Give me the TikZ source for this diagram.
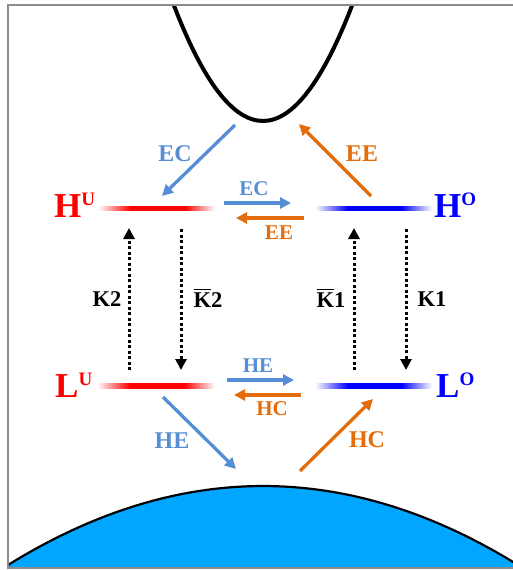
\documentclass[tikz,border=0pt]{standalone}
\usepackage{fontspec}
\setmainfont{Liberation Serif}
\usetikzlibrary{arrows.meta}
\definecolor{arrblue}{RGB}{85,142,213}
\definecolor{arrorange}{RGB}{228,108,10}
\definecolor{domeblue}{RGB}{0,166,255}
\definecolor{framegray}{RGB}{140,140,140}
\pgfdeclarehorizontalshading{redfade}{100bp}{color(0bp)=(white); color(25bp)=(white); color(39bp)=(red); color(62bp)=(red); color(75bp)=(white); color(100bp)=(white)}
\pgfdeclarehorizontalshading{bluefade}{100bp}{color(0bp)=(white); color(25bp)=(white); color(39bp)=(blue); color(62bp)=(blue); color(75bp)=(white); color(100bp)=(white)}
\newsavebox{\kbox}
\newcommand{\kbar}{\sbox{\kbox}{K}\rlap{\raisebox{\dimexpr\ht\kbox+2.5pt\relax}{\rule{\wd\kbox}{1.3pt}}}\usebox{\kbox}}
\newcommand{\supx}[1]{\raisebox{12pt}{\fontsize{19}{19}\selectfont #1}}
\tikzset{
  bigl/.style={inner sep=0pt, anchor=base west, font=\bfseries\fontsize{35}{35}\selectfont},
  diaglab/.style={inner sep=0pt, font=\bfseries\fontsize{24}{24}\selectfont},
  horlab/.style={inner sep=0pt, font=\bfseries\fontsize{21}{21}\selectfont},
  klab/.style={inner sep=0pt, font=\bfseries\fontsize{22.5}{22.5}\selectfont},
  barrow/.style={draw=arrblue, line width=3.3pt, -{Triangle[length=11pt,width=11pt]}},
  oarrow/.style={draw=arrorange, line width=3.3pt, -{Triangle[length=11pt,width=11pt]}},
  darrow/.style={draw=black, line width=3pt, dash pattern=on 3pt off 2.5pt, -{Triangle[length=11pt,width=11pt]}},
}
\begin{document}
\begin{tikzpicture}[x=1pt,y=-1pt]
\useasboundingbox (0,0) rectangle (513,570);
\begin{scope}
\clip (8,5) rectangle (513,568);
% dome
\fill[domeblue] (8,565) .. controls (178,459.7) and (348,459.7) .. (518,565) -- (518,580) -- (8,580) -- cycle;
\draw[black, line width=2.2pt] (8,565) .. controls (178,459.7) and (348,459.7) .. (518,565);
% parabola
\draw[black, line width=4pt] (173,3) .. controls (233,160.3) and (293,160.3) .. (353,3);
\end{scope}
% frame
\draw[framegray, line width=1.2pt] (514,5) -- (8,5) -- (8,568) -- (514,568);

% level lines
\shade[shading=redfade] (98,206) rectangle (215,210.5);
\shade[shading=bluefade] (315,206) rectangle (432,210.5);
\shade[shading=redfade] (97,383.5) rectangle (215,388);
\shade[shading=bluefade] (315,383.5) rectangle (432,388);

% level labels
\node[bigl, text=red] (HU) at (54,217) {H\supx{U}};
\node[bigl, text=blue] (HO) at (434,217) {H\supx{O}};
\node[bigl, text=red] (LU) at (55,397) {L\supx{U}};
\node[bigl, text=blue] (LO) at (436,397) {L\supx{O}};

% coordinates
\coordinate (ecd1) at (235,125); \coordinate (ecd2) at (162,196);
\coordinate (eed1) at (371,196); \coordinate (eed2) at (299,124);
\coordinate (ech1) at (224,203); \coordinate (ech2) at (291,203);
\coordinate (eeh1) at (304,218); \coordinate (eeh2) at (236,218);
\coordinate (k2a) at (129,370); \coordinate (k2b) at (129,228);
\coordinate (kb2a) at (181,229); \coordinate (kb2b) at (181,370);
\coordinate (kb1a) at (354,370); \coordinate (kb1b) at (354,228);
\coordinate (k1a) at (406,229); \coordinate (k1b) at (406,370);
\coordinate (heh1) at (227,380); \coordinate (heh2) at (294,380);
\coordinate (hch1) at (301,395); \coordinate (hch2) at (234,395);
\coordinate (hed1) at (163,397); \coordinate (hed2) at (236,469);
\coordinate (hcd1) at (300,471); \coordinate (hcd2) at (373,399);

% arrows
\draw[barrow] (ecd1) -- (ecd2);
\draw[oarrow] (eed1) -- (eed2);
\draw[barrow] (ech1) -- (ech2);
\draw[oarrow] (eeh1) -- (eeh2);
\draw[darrow] (k2a) -- (k2b);
\draw[darrow] (kb2a) -- (kb2b);
\draw[darrow] (kb1a) -- (kb1b);
\draw[darrow] (k1a) -- (k1b);
\draw[barrow] (heh1) -- (heh2);
\draw[oarrow] (hch1) -- (hch2);
\draw[barrow] (hed1) -- (hed2);
\draw[oarrow] (hcd1) -- (hcd2);

% arrow labels
\node[diaglab, text=arrblue] (lecd) at (175,154) {EC};
\node[diaglab, text=arrorange] (leed) at (362,154) {EE};
\node[horlab, text=arrblue] (lech) at (254,189) {EC};
\node[horlab, text=arrorange] (leeh) at (279,233) {EE};
\node[klab] (lk2) at (107,299) {K2};
\node[klab] (lkb2) at (208,298) {\kbar2};
\node[klab] (lkb1) at (331,298) {\kbar1};
\node[klab] (lk1) at (432,299) {K1};
\node[horlab, text=arrblue] (lheh) at (258,366) {HE};
\node[horlab, text=arrorange] (lhch) at (272,409) {HC};
\node[diaglab, text=arrblue] (lhed) at (172,441) {HE};
\node[diaglab, text=arrorange] (lhcd) at (367,440) {HC};
\end{tikzpicture}
\end{document}
